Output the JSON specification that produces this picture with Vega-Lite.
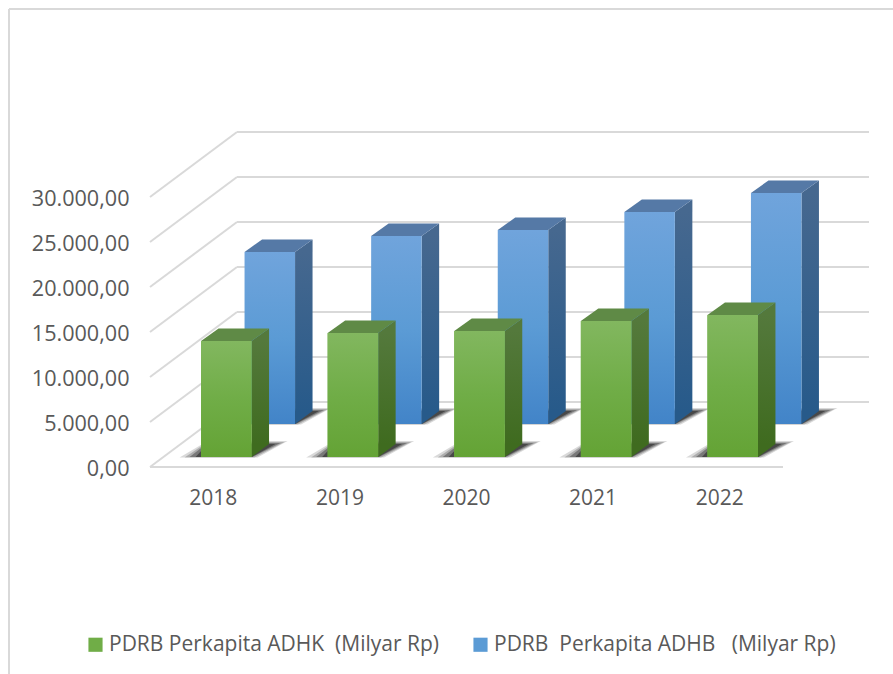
{
"$schema":"https://vega.github.io/schema/vega-lite/v6.json",
"width":633,"height":270,"autosize":"none",
"padding":{"left":150,"top":197,"right":110,"bottom":207},
"background":"#ffffff",
"config":{"view":{"stroke":null},"locale":{"number":{"decimal":",","thousands":".","grouping":[3],"currency":["",""]}},"font":"Open Sans"},
"datasets":{
"ticks":[{"tick":0},{"tick":5000},{"tick":10000},{"tick":15000},{"tick":20000},{"tick":25000},{"tick":30000}],
"rows":[
{"year":"2018","series":"PDRB Perkapita ADHK \u00a0(Milyar Rp)","value":12889},
{"year":"2019","series":"PDRB Perkapita ADHK \u00a0(Milyar Rp)","value":13778},
{"year":"2020","series":"PDRB Perkapita ADHK \u00a0(Milyar Rp)","value":14000},
{"year":"2021","series":"PDRB Perkapita ADHK \u00a0(Milyar Rp)","value":15111},
{"year":"2022","series":"PDRB Perkapita ADHK \u00a0(Milyar Rp)","value":15778},
{"year":"2018","series":"PDRB \u00a0Perkapita ADHB \u00a0 (Milyar Rp)","value":19111},
{"year":"2019","series":"PDRB \u00a0Perkapita ADHB \u00a0 (Milyar Rp)","value":20889},
{"year":"2020","series":"PDRB \u00a0Perkapita ADHB \u00a0 (Milyar Rp)","value":21556},
{"year":"2021","series":"PDRB \u00a0Perkapita ADHB \u00a0 (Milyar Rp)","value":23556},
{"year":"2022","series":"PDRB \u00a0Perkapita ADHB \u00a0 (Milyar Rp)","value":25667}
]},
"layer":[
{"data":{"name":"ticks"},"mark":{"type":"rule","color":"#d9d9d9","strokeWidth":2,"y2Offset":-65},
 "encoding":{"x":{"value":0},"x2":{"value":87},"y":{"field":"tick","type":"quantitative","scale":{"domain":[0,30000]},"axis":{"title":null,"values":[0,5000,10000,15000,20000,25000,30000],"format":",.2f","grid":false,"domain":false,"ticks":false,"labelPadding":21,"labelOffset":2,"labelFont":"Open Sans","labelFontSize":21.6,"labelColor":"#595959"}},"y2":{"field":"tick"}}},
{"data":{"name":"ticks"},"mark":{"type":"rule","color":"#d9d9d9","strokeWidth":2,"yOffset":-65},
 "encoding":{"x":{"value":87},"x2":{"value":719},"y":{"field":"tick","type":"quantitative"}}},
{"data":{"values":[{"tick":0}]},"mark":{"type":"rule","color":"#d9d9d9","strokeWidth":2},
 "encoding":{"x":{"value":0},"x2":{"value":633},"y":{"field":"tick","type":"quantitative"}}},
{"data":{"values":[{"tick":0}]},"mark":{"type":"rule","color":"#d9d9d9","strokeWidth":2},
 "encoding":{"x":{"value":-141},"x2":{"value":-141},"y":{"value":-188},"y2":{"value":477}}},
{"data":{"values":[{"tick":0}]},"mark":{"type":"rule","color":"#d9d9d9","strokeWidth":2},
 "encoding":{"x":{"value":-141},"x2":{"value":743},"y":{"value":-188}}},
{"data":{"name":"rows"},
 "encoding":{
  "x":{"field":"year","type":"ordinal","scale":{"paddingInner":0,"paddingOuter":0},"axis":{"title":null,"labelAngle":0,"domain":false,"ticks":false,"labelPadding":20,"labelFont":"Open Sans","labelFontSize":21,"labelColor":"#595959"}},
  "y":{"field":"value","type":"quantitative"}
 },
 "layer":[
  {"transform":[{"filter":{"field":"series","equal":"PDRB \u00a0Perkapita ADHB \u00a0 (Milyar Rp)"}}],
   "layer":[
    {"mark":{"type":"point","filled":true,"size":4,"opacity":0.15,"color":"#000000","shape":"M-72 0.5L6 0.5L36 -16L-44 -16Z","xOffset":81.75,"yOffset":-43},"encoding":{"y":{"datum":0}}},
    {"mark":{"type":"point","filled":true,"size":4,"opacity":0.2,"color":"#000000","shape":"M-67 0.5L3 0.5L33 -15L-44 -15Z","xOffset":81.75,"yOffset":-43},"encoding":{"y":{"datum":0}}},
    {"mark":{"type":"point","filled":true,"size":4,"opacity":0.3,"color":"#000000","shape":"M-62 0L1 0L29 -14L-44 -14Z","xOffset":81.75,"yOffset":-43},"encoding":{"y":{"datum":0}}},
    {"mark":{"type":"point","filled":true,"size":4,"opacity":0.4,"color":"#000000","shape":"M-56 0L0 0L24 -13L-44 -13Z","xOffset":81.75,"yOffset":-43},"encoding":{"y":{"datum":0}}},
    {"mark":{"type":"bar","width":17.5,"xOffset":90.5,"yOffset":-43,"y2Offset":-56,"fill":{"x1":0,"y1":0,"x2":0,"y2":1,"gradient":"linear","stops":[{"offset":0,"color":"#46688f"},{"offset":1,"color":"#275a8a"}]}},"encoding":{"y2":{"datum":0}}},
    {"mark":{"type":"point","filled":true,"size":4,"opacity":1,"color":"#46688f","shape":"M0 0L17.5 -12.5L17.5 0Z","xOffset":81.75,"yOffset":-43}},
    {"mark":{"type":"point","filled":true,"size":4,"opacity":1,"color":"#275a8a","shape":"M0 0L17.5 -13L0 -13Z","xOffset":81.75,"yOffset":-43},"encoding":{"y":{"datum":0}}},
    {"mark":{"type":"point","filled":true,"size":4,"opacity":1,"color":"#5579a6","shape":"M0 0L-50.5 0L-33 -12.5L17.5 -12.5Z","xOffset":81.75,"yOffset":-43}},
    {"mark":{"type":"bar","width":50.5,"xOffset":56.5,"yOffset":-43,"y2Offset":-43,"fill":{"x1":0,"y1":0,"x2":0,"y2":1,"gradient":"linear","stops":[{"offset":0,"color":"#70a4dc"},{"offset":0.5,"color":"#5b9bd5"},{"offset":1,"color":"#4284c8"}]}},"encoding":{"y2":{"datum":0}}}
   ]},
  {"transform":[{"filter":{"field":"series","equal":"PDRB Perkapita ADHK \u00a0(Milyar Rp)"}}],
   "layer":[
    {"mark":{"type":"point","filled":true,"size":4,"opacity":0.15,"color":"#000000","shape":"M-72 0.5L6 0.5L36 -16L-44 -16Z","xOffset":38.25,"yOffset":-10},"encoding":{"y":{"datum":0}}},
    {"mark":{"type":"point","filled":true,"size":4,"opacity":0.2,"color":"#000000","shape":"M-67 0.5L3 0.5L33 -15L-44 -15Z","xOffset":38.25,"yOffset":-10},"encoding":{"y":{"datum":0}}},
    {"mark":{"type":"point","filled":true,"size":4,"opacity":0.3,"color":"#000000","shape":"M-62 0L1 0L29 -14L-44 -14Z","xOffset":38.25,"yOffset":-10},"encoding":{"y":{"datum":0}}},
    {"mark":{"type":"point","filled":true,"size":4,"opacity":0.4,"color":"#000000","shape":"M-56 0L0 0L24 -13L-44 -13Z","xOffset":38.25,"yOffset":-10},"encoding":{"y":{"datum":0}}},
    {"mark":{"type":"bar","width":17.5,"xOffset":47,"yOffset":-10,"y2Offset":-23,"fill":{"x1":0,"y1":0,"x2":0,"y2":1,"gradient":"linear","stops":[{"offset":0,"color":"#54793c"},{"offset":1,"color":"#3f6b1f"}]}},"encoding":{"y2":{"datum":0}}},
    {"mark":{"type":"point","filled":true,"size":4,"opacity":1,"color":"#54793c","shape":"M0 0L17.5 -12.5L17.5 0Z","xOffset":38.25,"yOffset":-10}},
    {"mark":{"type":"point","filled":true,"size":4,"opacity":1,"color":"#3f6b1f","shape":"M0 0L17.5 -13L0 -13Z","xOffset":38.25,"yOffset":-10},"encoding":{"y":{"datum":0}}},
    {"mark":{"type":"point","filled":true,"size":4,"opacity":1,"color":"#5f8a46","shape":"M0 0L-50.5 0L-33 -12.5L17.5 -12.5Z","xOffset":38.25,"yOffset":-10}},
    {"mark":{"type":"bar","width":50.5,"xOffset":13,"yOffset":-10,"y2Offset":-10},"encoding":{"y2":{"datum":0},"fill":{"field":"series","type":"nominal","scale":{"domain":["PDRB Perkapita ADHK \u00a0(Milyar Rp)","PDRB \u00a0Perkapita ADHB \u00a0 (Milyar Rp)"],"range":["#70ad47","#5b9bd5"]},
     "legend":{"title":null,"orient":"none","legendX":-65,"legendY":437,"direction":"horizontal","columns":2,"symbolType":"square","symbolSize":200,"symbolStrokeWidth":0,"labelFont":"Open Sans","labelFontSize":21,"labelLimit":500,"labelColor":"#595959","columnPadding":30,"labelOffset":3}}}},
    {"mark":{"type":"bar","width":50.5,"xOffset":13,"yOffset":-10,"y2Offset":-10,"fill":{"x1":0,"y1":0,"x2":0,"y2":1,"gradient":"linear","stops":[{"offset":0,"color":"#82b75f"},{"offset":0.5,"color":"#70ad47"},{"offset":1,"color":"#64a335"}]}},"encoding":{"y2":{"datum":0}}}
   ]}
 ]}
]}
